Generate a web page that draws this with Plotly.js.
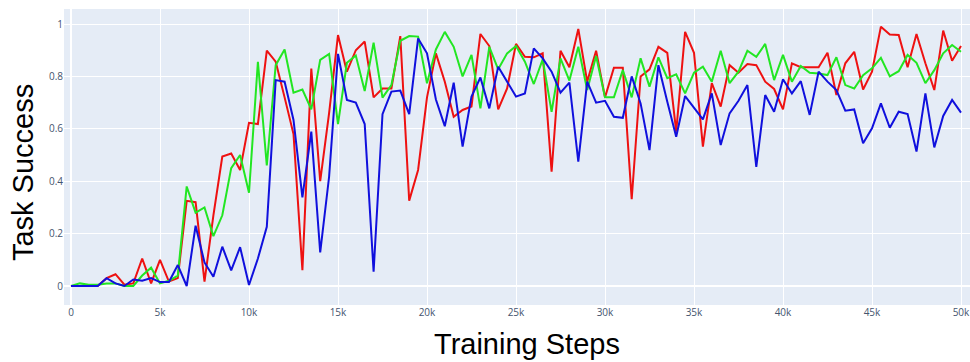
<!DOCTYPE html>
<html>
<head>
<meta charset="utf-8">
<script src="https://cdn.plot.ly/plotly-3.0.1.min.js"></script>
<style>
html,body{margin:0;padding:0;overflow:hidden;background:#fff;width:970px;height:362px;}
#chart{width:990px;height:362px;}
</style>
</head>
<body>
<div id="chart"></div>
<script>
const steps = [0,500,1000,1500,2000,2500,3000,3500,4000,4500,5000,5500,6000,6500,7000,7500,8000,8500,9000,9500,
10000,10500,11000,11500,12000,12500,13000,13500,14000,14500,15000,15500,16000,16500,17000,17500,18000,18500,19000,19500,
20000,20500,21000,21500,22000,22500,23000,23500,24000,24500,25000,25500,26000,26500,27000,27500,28000,28500,29000,29500,
30000,30500,31000,31500,32000,32500,33000,33500,34000,34500,35000,35500,36000,36500,37000,37500,38000,38500,39000,39500,
40000,40500,41000,41500,42000,42500,43000,43500,44000,44500,45000,45500,46000,46500,47000,47500,48000,48500,49000,49500,50000];

const redSeries = [0,0,0,0,0.03,0.045,0.005,0.01,0.105,0.01,
0.1,0.017,0.03,0.325,0.32,0.017,0.27,0.494,0.506,0.443,
0.623,0.618,0.898,0.856,0.72,0.58,0.06,0.83,0.40,0.66,
0.958,0.818,0.90,0.933,0.72,0.754,0.754,0.954,0.326,0.443,
0.72,0.888,0.78,0.646,0.672,0.685,0.962,0.916,0.674,0.754,
0.924,0.875,0.873,0.888,0.436,0.898,0.835,0.981,0.78,0.898,
0.72,0.833,0.833,0.331,0.8,0.827,0.913,0.89,0.589,0.97,
0.89,0.532,0.774,0.685,0.843,0.814,0.847,0.843,0.78,0.752,
0.674,0.85,0.835,0.835,0.835,0.89,0.729,0.85,0.894,0.75,
0.818,0.99,0.96,0.958,0.835,0.962,0.85,0.748,0.975,0.86,0.916];

const greenSeries = [0,0.01,0.005,0.005,0.01,0.01,0.0,0.0,0.04,0.07,
0.01,0.02,0.04,0.38,0.28,0.30,0.19,0.27,0.45,0.5,
0.356,0.856,0.46,0.843,0.903,0.738,0.75,0.674,0.863,0.886,
0.618,0.852,0.88,0.744,0.929,0.719,0.767,0.936,0.954,0.952,
0.774,0.903,0.97,0.913,0.8,0.882,0.678,0.913,0.827,0.888,
0.916,0.856,0.771,0.865,0.665,0.869,0.784,0.913,0.748,0.878,
0.72,0.72,0.824,0.72,0.869,0.761,0.873,0.793,0.808,0.735,
0.814,0.837,0.78,0.898,0.774,0.818,0.898,0.875,0.924,0.786,
0.882,0.78,0.84,0.814,0.811,0.805,0.873,0.767,0.754,0.805,
0.831,0.871,0.8,0.82,0.882,0.852,0.774,0.824,0.888,0.92,0.894];

const blueSeries = [0,0,0,0,0.03,0.01,0.0,0.025,0.02,0.03,
0.015,0.015,0.08,0.0,0.23,0.09,0.035,0.15,0.06,0.148,
0.004,0.105,0.226,0.786,0.78,0.634,0.338,0.589,0.128,0.417,
0.886,0.71,0.70,0.618,0.055,0.656,0.742,0.746,0.656,0.945,
0.888,0.712,0.61,0.776,0.532,0.723,0.796,0.678,0.837,0.78,
0.723,0.735,0.907,0.869,0.818,0.738,0.776,0.475,0.78,0.70,
0.707,0.646,0.642,0.8,0.697,0.519,0.843,0.703,0.57,0.725,
0.682,0.636,0.735,0.538,0.659,0.707,0.767,0.455,0.729,0.665,
0.789,0.735,0.782,0.653,0.818,0.78,0.748,0.669,0.674,0.545,
0.602,0.697,0.604,0.665,0.656,0.513,0.735,0.529,0.649,0.71,0.662];

const xTickVals = [0,5000,10000,15000,20000,25000,30000,35000,40000,45000,50000];
const xTickText = ["0","5k","10k","15k","20k","25k","30k","35k","40k","45k","50k"];
const yTickVals = [0,0.2,0.4,0.6,0.8,1];
const yTickText = ["0","0.2","0.4","0.6","0.8","1"];

const traces = [
  {x: steps, y: redSeries, type: 'scatter', mode: 'lines', line: {color: '#ee1111', width: 2}, name: 'red'},
  {x: steps, y: greenSeries, type: 'scatter', mode: 'lines', line: {color: '#22e622', width: 2}, name: 'green'},
  {x: steps, y: blueSeries, type: 'scatter', mode: 'lines', line: {color: '#1010dd', width: 2}, name: 'blue'}
];

const tickFont = {family: 'Open Sans, Liberation Sans, Arial, sans-serif', size: 10, color: '#44546e'};
const titleFont = {family: 'Liberation Sans, Arial, sans-serif', size: 29, color: '#000'};

const layout = {
  width: 990, height: 362,
  margin: {l: 64, r: 0, t: 9, b: 57, pad: 0},
  paper_bgcolor: '#ffffff',
  plot_bgcolor: '#E5ECF6',
  showlegend: false,
  xaxis: {
    range: [-393, 51629],
    tickvals: xTickVals, ticktext: xTickText,
    showgrid: true, gridcolor: '#ffffff', gridwidth: 1,
    zeroline: true, zerolinecolor: '#ffffff', zerolinewidth: 2,
    showline: false, ticks: '', tickfont: tickFont
  },
  yaxis: {
    range: [-0.0725, 1.0573],
    tickvals: yTickVals, ticktext: yTickText,
    showgrid: true, gridcolor: '#ffffff', gridwidth: 1,
    zeroline: true, zerolinecolor: '#ffffff', zerolinewidth: 2,
    showline: false, ticks: '', tickfont: tickFont
  },
  annotations: [
    {text: 'Training Steps', xref: 'paper', yref: 'paper', x: 0.5, y: -0.1318,
     xanchor: 'center', yanchor: 'middle', showarrow: false, font: titleFont},
    {text: 'Task Success', xref: 'paper', yref: 'paper', x: -0.0443, y: 0.449,
     xanchor: 'center', yanchor: 'middle', textangle: -90, showarrow: false, font: titleFont}
  ]
};

Plotly.newPlot('chart', traces, layout, {displayModeBar: false, staticPlot: true});
</script>
</body>
</html>
